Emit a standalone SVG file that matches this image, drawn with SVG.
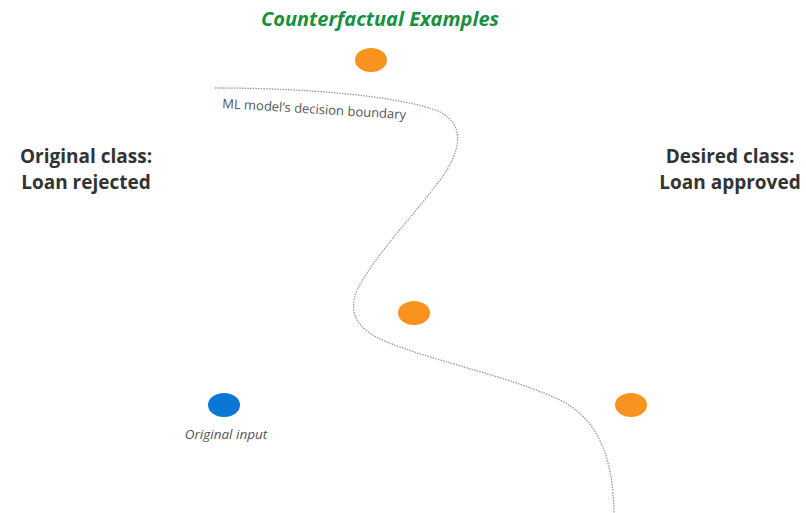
<svg xmlns="http://www.w3.org/2000/svg" width="806" height="513" viewBox="0 0 806 513">
<style>
.t{font-family:"Open Sans","Noto Sans",sans-serif}
.cls{font-size:19px;font-weight:bold;fill:#333;text-anchor:middle}
.orange{fill:#f7931e}
.blue{fill:#0a77d5}
.bd{fill:none;stroke:#999;stroke-width:1.3;stroke-dasharray:1.5 1.2}
</style>
<rect width="806" height="513" fill="#fff"/>
<text class="t" x="380" y="26" font-size="20" font-weight="bold" font-style="italic" fill="#17903f" text-anchor="middle">Counterfactual Examples</text>
<g id="connectors">
<path class="bd" d="M215,88 C300,88 400,95 440,112 C465,125 462,150 440,180 C410,220 375,255 357,290 C345,320 365,335 400,347 C450,365 510,377 560,400 C600,420 613,460 614,513"/>
</g>
<text class="t" x="222" y="108" font-size="13" fill="#555" transform="rotate(3.5 222 108)">ML model’s decision boundary</text>
<g id="original-class"><text class="t cls" x="86" y="163">Original class:</text><text class="t cls" x="86" y="189">Loan rejected</text></g>
<g id="desired-class"><text class="t cls" x="730" y="163">Desired class:</text><text class="t cls" x="730" y="189">Loan approved</text></g>
<g id="cf-top"><ellipse class="orange" cx="371" cy="60" rx="16" ry="12"/></g>
<g id="cf-middle"><ellipse class="orange" cx="414" cy="313" rx="16" ry="12"/></g>
<g id="cf-right"><ellipse class="orange" cx="631" cy="405" rx="16" ry="12"/></g>
<g id="original-input"><ellipse class="blue" cx="224" cy="405" rx="16" ry="12"/>
<text class="t" x="226" y="439" font-size="13.5" font-style="italic" fill="#555" text-anchor="middle">Original input</text></g>
</svg>
